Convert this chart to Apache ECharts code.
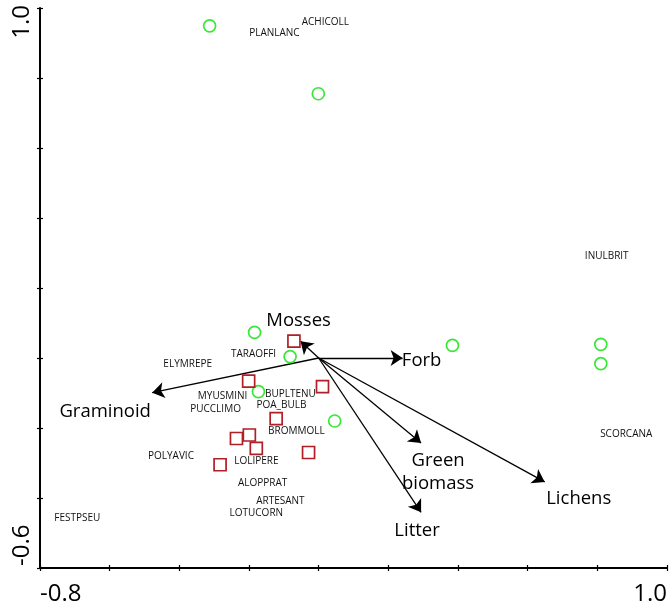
<!DOCTYPE html>
<html><head><meta charset="utf-8">
<script src="https://cdn.jsdelivr.net/npm/echarts@6/dist/echarts.min.js"></script>
<style>html,body{margin:0;padding:0;background:#fff}#c{width:670px;height:613px}</style>
</head><body><div id="c"></div>
<script>
// ---------- data ----------
const xMin = -0.8, xMax = 1.0, yMin = -0.6, yMax = 1.0, tickStep = 0.2;
const xTickLabels = ['-0.8', '1.0'];
const yTickLabels = ['-0.6', '1.0'];

// sites, group 1 (green circles)
const siteAX = [-0.313, -0.001, -0.184, -0.082, -0.173, 0.046, 0.384, 0.810, 0.810];
const siteAY = [0.949, 0.755, 0.073, 0.004, -0.096, -0.180, 0.036, 0.039, -0.016];

// sites, group 2 (red squares)
const siteBX = [-0.071, -0.201, 0.011, -0.122, -0.199, -0.236, -0.179, -0.029, -0.283];
const siteBY = [0.048, -0.066, -0.082, -0.173, -0.220, -0.230, -0.258, -0.270, -0.305];

// species scores (labels only)
const speciesNames = ['ACHICOLL','PLANLANC','INULBRIT','ELYMREPE','TARAOFFI','MYUSMINI','PUCCLIMO',
  'BUPLTENU','POA_BULB','BROMMOLL','POLYAVIC','LOLIPERE','ALOPPRAT','ARTESANT','LOTUCORN','SCORCANA','FESTPSEU'];
const speciesX = [0.019, -0.127, 0.827, -0.376, -0.187, -0.276, -0.296,
  -0.081, -0.107, -0.064, -0.424, -0.179, -0.161, -0.110, -0.179, 0.883, -0.693];
const speciesY = [0.960, 0.929, 0.290, -0.018, 0.010, -0.109, -0.147,
  -0.104, -0.135, -0.209, -0.281, -0.295, -0.358, -0.408, -0.443, -0.218, -0.457];

// environmental vectors
const vectorNames = ['Mosses', 'Forb', 'Graminoid', 'Green\nbiomass', 'Litter', 'Lichens'];
const vectorX = [-0.052, 0.241, -0.478, 0.294, 0.294, 0.649];
const vectorY = [0.048, 0.000, -0.099, -0.243, -0.441, -0.354];

// ---------- styling ----------
const FONT = '"Open Sans", "Noto Sans", sans-serif';
const vectorLabelOffset = {
  'Mosses': [-2, -20], 'Forb': [19, 3], 'Graminoid': [-47, 19],
  'Green\nbiomass': [17, 29], 'Litter': [-4, 18], 'Lichens': [34, 17]
};

const zip = (a, b) => a.map((v, i) => [v, b[i]]);

const chart = echarts.init(document.getElementById('c'), null, {renderer: 'canvas'});
const grid = {left: 40, right: 0, top: 8, bottom: 45};

const axisCommon = {
  type: 'value', interval: tickStep, splitLine: {show: false}
};
const tickStyle = {color: '#000', width: 1.2};

chart.setOption({
  backgroundColor: '#fff',
  animation: false,
  grid: grid,
  xAxis: [
    Object.assign({}, axisCommon, {
      min: xMin, max: xMax, position: 'bottom',
      axisLine: {show: true, onZero: false, lineStyle: {color: '#000', width: 2}},
      axisTick: {show: true, inside: false, length: 3, lineStyle: tickStyle},
      axisLabel: {
        show: true, fontSize: 24, color: '#000', fontFamily: FONT, margin: 14,
        alignMinLabel: 'left', alignMaxLabel: 'right',
        formatter: v => {
          if (Math.abs(v - xMin) < 1e-9) return xTickLabels[0];
          if (Math.abs(v - xMax) < 1e-9) return xTickLabels[1];
          return '';
        }
      }
    }),
    Object.assign({}, axisCommon, {
      min: xMin, max: xMax, position: 'bottom',
      axisLine: {show: false, onZero: false},
      axisTick: {show: true, inside: true, length: 3, lineStyle: tickStyle},
      axisLabel: {show: false}
    })
  ],
  yAxis: [
    Object.assign({}, axisCommon, {
      min: yMin, max: yMax, position: 'left',
      axisLine: {show: true, onZero: false, lineStyle: {color: '#000', width: 2}},
      axisTick: {show: true, inside: false, length: 3, lineStyle: tickStyle},
      axisLabel: {show: false}
    }),
    Object.assign({}, axisCommon, {
      min: yMin, max: yMax, position: 'left',
      axisLine: {show: false, onZero: false},
      axisTick: {show: true, inside: true, length: 3, lineStyle: tickStyle},
      axisLabel: {show: false}
    })
  ],
  graphic: [
    {type: 'text', rotation: Math.PI / 2, x: 22, y: 5,
      style: {text: yTickLabels[1], fontSize: 24, fontFamily: FONT, fill: '#000',
        textAlign: 'right', textVerticalAlign: 'middle'}},
    {type: 'text', rotation: Math.PI / 2, x: 22, y: 566,
      style: {text: yTickLabels[0], fontSize: 24, fontFamily: FONT, fill: '#000',
        textAlign: 'left', textVerticalAlign: 'middle'}}
  ],
  series: [
    {
      type: 'lines', coordinateSystem: 'cartesian2d', xAxisIndex: 0, yAxisIndex: 0,
      symbol: ['none', 'arrow'], symbolSize: 12,
      lineStyle: {color: '#000', width: 1.3, opacity: 1},
      data: vectorNames.map((n, i) => ({coords: [[0, 0], [vectorX[i], vectorY[i]]]})),
      z: 3
    },
    {
      type: 'scatter', xAxisIndex: 0, yAxisIndex: 0,
      symbol: 'circle', symbolSize: 12,
      itemStyle: {color: 'rgba(0,0,0,0)', borderColor: '#38e836', borderWidth: 1.7, opacity: 1},
      data: zip(siteAX, siteAY), z: 4
    },
    {
      type: 'scatter', xAxisIndex: 0, yAxisIndex: 0,
      symbol: 'rect', symbolSize: 12,
      itemStyle: {color: 'rgba(0,0,0,0)', borderColor: '#b01f25', borderWidth: 1.7, opacity: 1},
      data: zip(siteBX, siteBY), z: 4
    },
    {
      type: 'scatter', xAxisIndex: 0, yAxisIndex: 0,
      symbolSize: 1, itemStyle: {color: 'rgba(0,0,0,0)', opacity: 1},
      label: {show: true, position: 'inside', formatter: p => p.name,
        fontSize: 10, fontFamily: FONT, color: '#111'},
      data: speciesNames.map((n, i) => ({name: n, value: [speciesX[i], speciesY[i]]})),
      z: 5, silent: true
    },
    {
      type: 'scatter', xAxisIndex: 0, yAxisIndex: 0,
      symbolSize: 1, itemStyle: {color: 'rgba(0,0,0,0)', opacity: 1},
      label: {show: true, position: 'inside', formatter: p => p.name,
        fontSize: 18.5, lineHeight: 23, fontFamily: FONT, color: '#000', align: 'center'},
      data: vectorNames.map((n, i) => ({name: n, value: [vectorX[i], vectorY[i]],
        label: {offset: vectorLabelOffset[n]}})),
      z: 5, silent: true
    }
  ]
});
</script></body></html>
